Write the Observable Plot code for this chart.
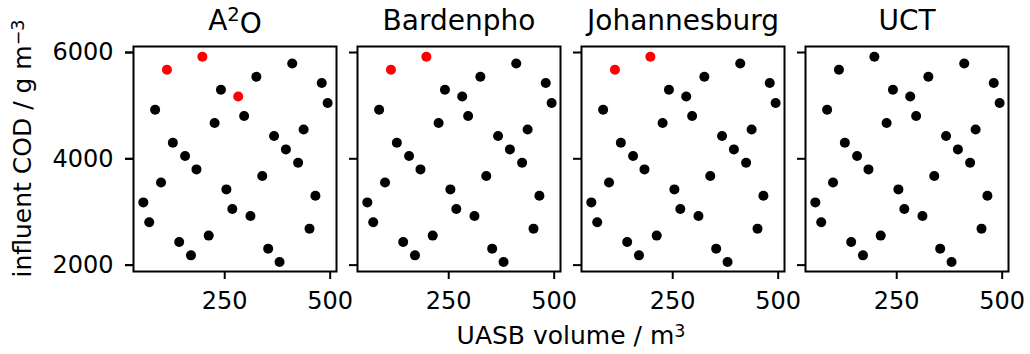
<!DOCTYPE html>
<html>
<head>
<meta charset="utf-8">
<script src="https://cdn.jsdelivr.net/npm/d3@7"></script>
<script src="https://cdn.jsdelivr.net/npm/@observablehq/plot@0.6"></script>
<style>
  html, body { margin: 0; padding: 0; background: #fff; }
  #chart svg { display: block; font-family: "DejaVu Sans", sans-serif; }
</style>
</head>
<body>
<div id="chart"></div>
<script>
// ---- data ----
const processes = ["A²O", "Bardenpho", "Johannesburg", "UCT"];
const uasbVolume = [113, 197, 282, 410, 325, 480, 241, 494, 85, 296, 226, 437, 367, 127, 395, 156,
                    424, 183, 339, 99, 254, 465, 57, 268, 311, 71, 451, 212, 142, 353, 170, 380];
const influentCOD = [5675, 5919, 5173, 5793, 5543, 5425, 5299, 5049, 4923, 4805, 4673, 4553, 4429, 4303, 4177, 4053,
                     3927, 3801, 3677, 3556, 3425, 3306, 3180, 3056, 2925, 2805, 2686, 2555, 2436, 2310, 2184, 2060];
// indices of the points drawn in red, per process
const flaggedA2O = [0, 1, 2];
const flaggedBardenpho = [0, 1];
const flaggedJohannesburg = [0, 1];
const flaggedUCT = [];
const xTicks = [250, 500];
const yTicks = [2000, 4000, 6000];
const xLabel = "UASB volume / m";
const xLabelSup = "3";
const yLabel = "influent COD / g m";
const yLabelSup = "−3";

const flags = [flaggedA2O, flaggedBardenpho, flaggedJohannesburg, flaggedUCT];
const data = [];
processes.forEach((p, pi) => {
  uasbVolume.forEach((v, i) => {
    data.push({process: p, volume: v, cod: influentCOD[i], color: flags[pi].includes(i) ? "#ff0000" : "#000000"});
  });
});

const plot = Plot.plot({
  width: 1030,
  height: 354,
  marginLeft: 132,
  marginRight: 20,
  marginTop: 46,
  marginBottom: 83,
  style: {fontFamily: "DejaVu Sans", background: "white", color: "black", overflow: "visible"},
  fx: {domain: processes, paddingInner: 0.0933, paddingOuter: 0, label: null},
  x: {domain: [33.7, 515]},
  y: {domain: [1880, 6113]},
  marks: [
    Plot.dot(data, {fx: "process", x: "volume", y: "cod", r: 5, fill: "color", stroke: null}),
    Plot.frame({stroke: "black", strokeWidth: 2}),
    Plot.axisFx({anchor: "top", label: null, tickSize: 0, fontSize: 28, tickPadding: 17}),
    Plot.axisX({ticks: xTicks, tickSize: 8, strokeWidth: 2, fontSize: 24, tickPadding: 12, tickFormat: d3.format("d"), label: null}),
    Plot.axisY({ticks: yTicks, tickSize: 8, strokeWidth: 2, fontSize: 24, tickPadding: 12, tickFormat: d3.format("d"), label: null}),
    Plot.axisY({ticks: yTicks, tickSize: 8, strokeWidth: 2, tickFormat: () => "", label: null, facetAnchor: null})
  ]
});

document.getElementById("chart").appendChild(plot);

// superscript in facet title
d3.select(plot).selectAll("text").each(function() {
  if (this.textContent === "A²O") {
    this.innerHTML = 'A<tspan dy="-0.42em" font-size="70%">2</tspan><tspan dy="0.42em">O</tspan>';
  }
});

// shared axis labels
const fx = plot.scale("fx");
const y = plot.scale("y");
const xr = fx.range;
const cx = (xr[0] + xr[1]) / 2;
const yr = y.range;
const cy = (yr[0] + yr[1]) / 2;
const svg = d3.select(plot);
svg.append("text")
  .attr("x", cx).attr("y", 344)
  .attr("text-anchor", "middle")
  .attr("font-size", 25)
  .attr("fill", "black")
  .html(`${xLabel}<tspan dy="-0.42em" font-size="70%">${xLabelSup}</tspan>`);
svg.append("text")
  .attr("transform", `translate(31,${cy - 10}) rotate(-90)`)
  .attr("text-anchor", "middle")
  .attr("font-size", 25)
  .attr("fill", "black")
  .html(`${yLabel}<tspan dy="-0.42em" font-size="70%">${yLabelSup}</tspan>`);
</script>
</body>
</html>
